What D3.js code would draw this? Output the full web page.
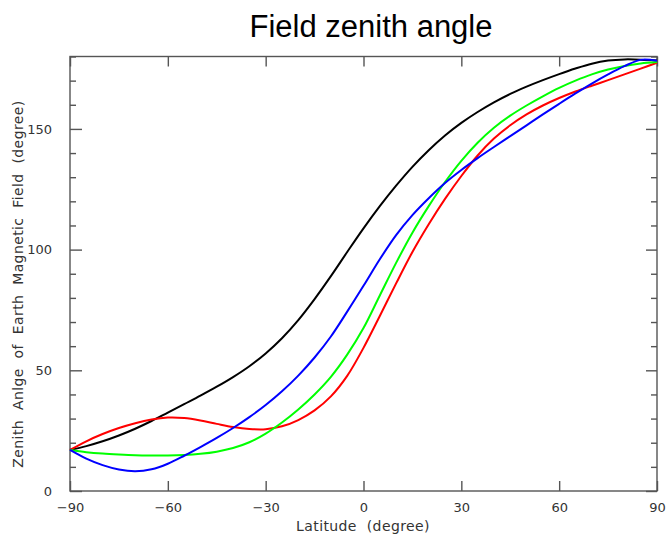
<!DOCTYPE html>
<html>
<head>
    <title>Field zenith angle</title>
    <script src="https://d3js.org/d3.v7.min.js"></script>
    <style>
        body {
            margin: 0;
            background-color: #fff;
        }

        .title {
            font-family: 'Liberation Sans', Arial, sans-serif;
            font-size: 31px;
            fill: #000;
            text-anchor: middle;
        }

        .axis path,
        .axis line {
            stroke: #555;
            stroke-width: 1.4px;
        }

        .axis text {
            font-family: 'DejaVu Sans', sans-serif;
            font-size: 13px;
            fill: #333;
        }

        .axis-label {
            font-family: 'DejaVu Sans', sans-serif;
            font-size: 14px;
            letter-spacing: 0.4px;
            word-spacing: 5px;
            fill: #333;
            text-anchor: middle;
        }

        .curve {
            fill: none;
            stroke-width: 2px;
        }
    </style>
</head>
<body>
    <div id="chart"></div>

    <script>
        const width = 667, height = 538;

        // latitude grid (degree)
        const latitudes = [-90, -85, -80, -75, -70, -65, -60, -55, -50, -45, -40, -35, -30, -25, -20, -15, -10, -5,
            0, 5, 10, 15, 20, 25, 30, 35, 40, 45, 50, 55, 60, 65, 70, 75, 80, 85, 90];

        // zenith angle of field, one array per curve
        const blackSeries = [17, 18.6, 20.6, 23, 25.8, 29, 32.5, 36, 39.5, 43.2, 47.2, 51.7, 57, 63.3, 70.8, 79.5, 89, 99,
            108.8, 118, 126.5, 134.3, 141.2, 147.3, 152.5, 157, 161, 164.5, 167.5, 170.2, 172.7, 175, 177, 178.3, 178.8, 178.7, 178.3];
        const redSeries = [17, 20.6, 23.6, 26.1, 28.1, 29.6, 30.4, 30.2, 29.2, 27.8, 26.5, 25.7, 25.6, 26.8, 29.4, 33.4, 39.2, 47.7,
            59.3, 72.5, 86, 99, 110.5, 121, 130.5, 139, 146, 151.5, 156, 159.7, 162.8, 165.5, 167.9, 170.2, 172.6, 175, 177.4];
        const greenSeries = [17, 16.1, 15.5, 15.1, 14.8, 14.7, 14.7, 14.9, 15.4, 16.3, 17.8, 20.2, 23.8, 28.4, 33.8, 40, 47.3, 56.5,
            67.5, 81, 94.5, 107, 118, 128, 136.8, 144.3, 150.5, 155.5, 159.7, 163.5, 167, 170, 172.6, 174.6, 176.1, 177.1, 177.7];
        const blueSeries = [17, 13.4, 10.7, 8.9, 8.2, 9, 11.3, 14.6, 18.2, 22, 26.1, 30.6, 35.6, 41.3, 47.8, 55.3, 64, 74.3,
            85, 96, 106, 114.3, 121.3, 127.6, 133, 137.9, 142.5, 147, 151.5, 156, 160.4, 164.7, 168.8, 172.6, 176, 178.6, 178.2];

        const seriesList = [
            { values: blackSeries, color: "#000000" },
            { values: redSeries, color: "#ff0000" },
            { values: greenSeries, color: "#00ff00" },
            { values: blueSeries, color: "#0000ff" }
        ];

        const xMajor = [-90, -60, -30, 0, 30, 60, 90];
        const yMajor = [0, 50, 100, 150];
        const yMinor = d3.range(0, 181, 10).filter(v => v % 50 !== 0);

        const plotLeft = 70, plotRight = 657, plotTop = 56.5, plotBottom = 491;

        const x = d3.scaleLinear().domain([-90, 90]).range([plotLeft, plotRight]);
        const y = d3.scaleLinear().domain([0, 180]).range([plotBottom, plotTop]);

        const svg = d3.select('#chart').append('svg')
            .attr("width", width)
            .attr("height", height);

        svg.append("text")
            .attr("class", "title")
            .attr("x", 371)
            .attr("y", 37)
            .text("Field zenith angle");

        // frame
        svg.append("rect")
            .attr("x", plotLeft).attr("y", plotTop)
            .attr("width", plotRight - plotLeft).attr("height", plotBottom - plotTop)
            .attr("fill", "none")
            .attr("stroke", "#555")
            .attr("stroke-width", 1.4);

        const fmt = d => d < 0 ? "\u2212" + Math.abs(d) : d;

        // bottom axis
        svg.append("g")
            .attr("class", "axis")
            .attr("transform", `translate(0,${plotBottom})`)
            .call(d3.axisBottom(x).tickValues(xMajor).tickSize(-10).tickPadding(12).tickFormat(fmt))
            .call(g => g.select(".domain").remove());

        // top axis, ticks only
        svg.append("g")
            .attr("class", "axis")
            .attr("transform", `translate(0,${plotTop})`)
            .call(d3.axisTop(x).tickValues(xMajor).tickSize(-10).tickFormat(""))
            .call(g => g.select(".domain").remove());

        // left axis
        svg.append("g")
            .attr("class", "axis")
            .attr("transform", `translate(${plotLeft},0)`)
            .call(d3.axisLeft(y).tickValues(yMajor).tickSize(-12).tickPadding(18))
            .call(g => g.select(".domain").remove());

        svg.append("g")
            .attr("class", "axis")
            .attr("transform", `translate(${plotLeft},0)`)
            .call(d3.axisLeft(y).tickValues(yMinor).tickSize(-6).tickFormat(""))
            .call(g => g.select(".domain").remove());

        // right axis, ticks only
        svg.append("g")
            .attr("class", "axis")
            .attr("transform", `translate(${plotRight},0)`)
            .call(d3.axisRight(y).tickValues(yMajor).tickSize(-11).tickFormat(""))
            .call(g => g.select(".domain").remove());

        svg.append("g")
            .attr("class", "axis")
            .attr("transform", `translate(${plotRight},0)`)
            .call(d3.axisRight(y).tickValues(yMinor).tickSize(-6).tickFormat(""))
            .call(g => g.select(".domain").remove());

        // axis titles
        svg.append("text")
            .attr("class", "axis-label")
            .attr("x", 363)
            .attr("y", 531)
            .text("Latitude (degree)");

        svg.append("text")
            .attr("class", "axis-label")
            .attr("transform", "translate(23,284) rotate(-90)")
            .text("Zenith Anlge of Earth Magnetic Field (degree)");

        // curves
        const line = d3.line()
            .x((d, i) => x(latitudes[i]))
            .y(d => y(d))
            .curve(d3.curveCatmullRom);

        svg.append("g")
            .selectAll("path")
            .data(seriesList)
            .join("path")
            .attr("class", "curve")
            .attr("stroke", d => d.color)
            .attr("d", d => line(d.values));
    </script>
</body>
</html>
